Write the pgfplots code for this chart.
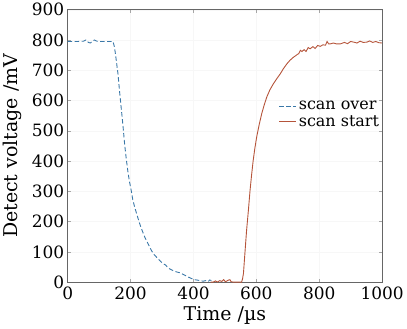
\documentclass[border=0pt]{standalone}
\usepackage{fontspec}
\setmainfont{DejaVu Serif}
\usepackage{pgfplots}
\pgfplotsset{compat=1.18}
\definecolor{cblue}{HTML}{3A78A8}
\definecolor{cred}{HTML}{B5543A}
\begin{document}
\begin{tikzpicture}
\begin{axis}[
  scale only axis,
  width=314bp, height=272bp,
  xmin=0, xmax=1000, ymin=0, ymax=900,
  xtick={0,200,...,1000}, ytick={0,100,...,900},
  /pgf/number format/assume math mode=true,
  /pgf/number format/1000 sep={},
  tick label style={font=\fontsize{17}{19}\selectfont},
  label style={font=\fontsize{19}{21}\selectfont},
  xticklabel style={yshift=-1.5bp},
  yticklabel style={xshift=0bp},
  xlabel={Time /µs},
  ylabel={Detect voltage /mV},
  xlabel style={yshift=0bp},
  ylabel style={yshift=3bp},
  axis line style={gray!80!black, line width=0.8pt},
  tick style={gray!70, line width=0.5pt},
  major tick length=3bp,
  grid=major,
  major grid style={gray!6, line width=0.4pt},
  tick align=inside,
  legend style={at={(axis cs:668,608)}, anchor=north west, draw=none, fill=none,
    font=\fontsize{16}{17}\selectfont, inner sep=1bp},
  legend cell align=left,
]
\addplot[cblue, dashed, line width=0.9pt, dash pattern=on 4.5bp off 2.5bp] coordinates {
(0,795) (30,795) (50,796) (58,800) (66,792) (72,790) (80,797) (85,800) (95,795) (120,795) (144,795)
(148,780) (152,754) (156,720) (160,688) (165,630) (170,578) (176,515) (181,457) (186,410) (191,369)
(196,335) (202,303) (207,272) (213,248) (221,220) (229,193) (237,170) (245,149) (255,128) (266,105)
(274,92) (282,83) (292,72) (303,61) (312,56) (318,48) (324,44) (335,38) (345,34) (356,31) (362,28)
(370,24) (383,17) (393,12) (404,8) (415,6) (425,4) (431,3) (440,5) (447,2) (452,7) (457,5)
};
\addlegendentry{scan over}
\addplot[cred, line width=0.9pt] coordinates {
(455,0) (463,0) (470,4) (476,0) (484,5) (490,2) (496,8) (502,1) (510,6) (516,8) (520,1) (527,0) (540,0) (553,0)
(556,10) (559,28) (564,100) (569,171) (575,240) (580,303) (585,355) (590,402) (595,440) (601,479)
(609,520) (617,556) (625,585) (633,611) (643,635) (654,655) (665,672) (676,688) (686,705) (697,721)
(707,733) (718,743) (725,748) (730,752) (735,755) (740,766) (745,762) (752,768) (758,762) (765,775)
(771,771) (780,778) (787,772) (795,782) (803,779) (812,784) (820,783) (825,795) (830,787) (835,787)
(845,790) (855,787) (867,787) (880,792) (890,788) (900,795) (910,793) (920,790) (930,796) (940,792)
(952,793) (960,797) (970,792) (980,795) (990,791) (1000,790)
};
\addlegendentry{scan start}
\end{axis}
\end{tikzpicture}
\end{document}
